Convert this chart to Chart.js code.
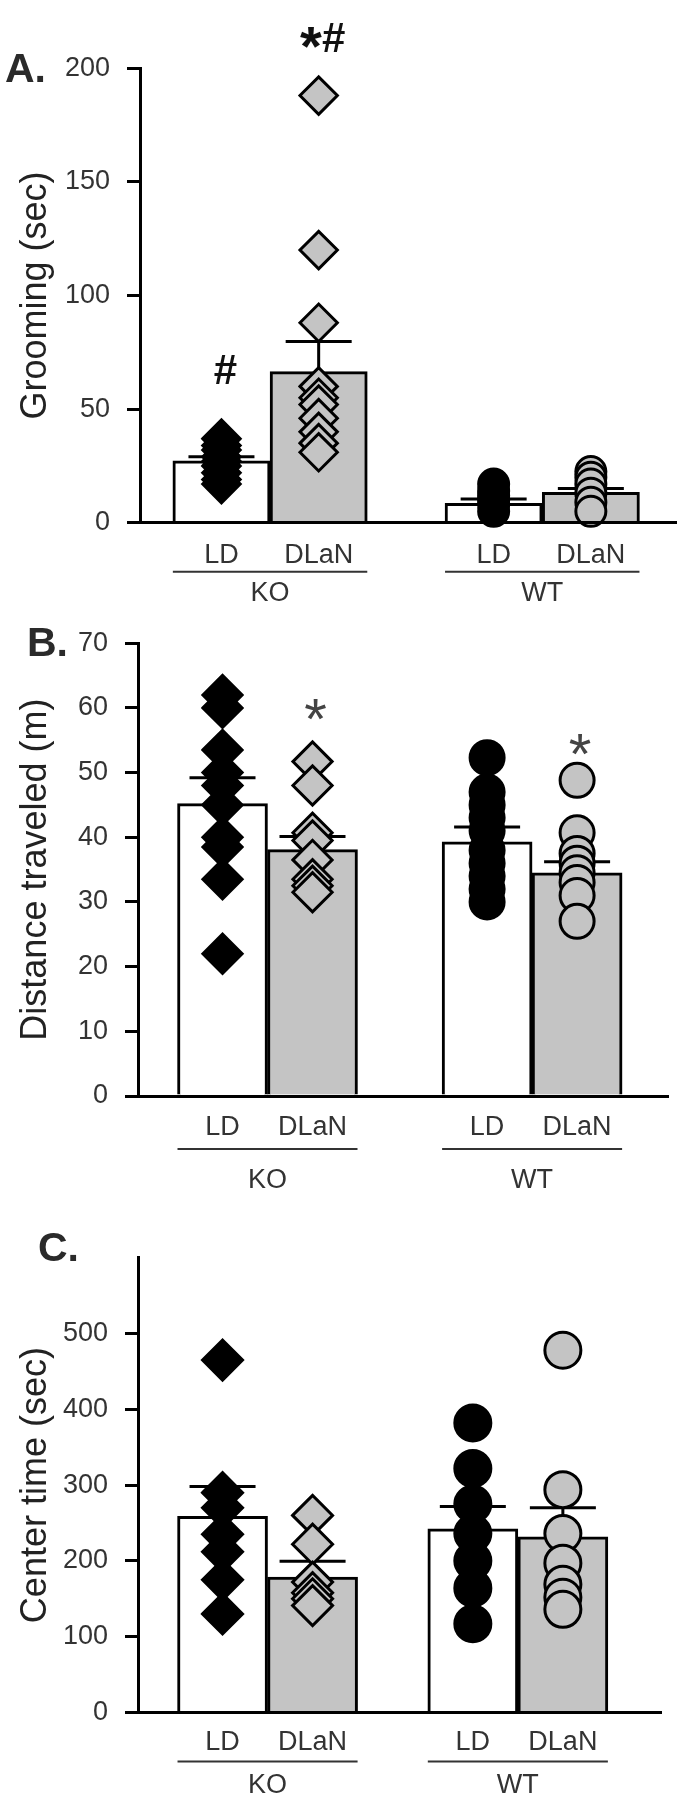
<!DOCTYPE html>
<html>
<head>
<meta charset="utf-8">
<script src="https://cdn.jsdelivr.net/npm/chart.js@4.4.1/dist/chart.umd.min.js"></script>
<style>
  html, body { margin: 0; padding: 0; background: #fff; }
  #page { position: relative; width: 698px; height: 1800px; }
  canvas { position: absolute; left: 0; }
</style>
</head>
<body>
<div id="page">
  <canvas id="panel-a" width="698" height="610" style="top:0"></canvas>
  <canvas id="panel-b" width="698" height="590" style="top:610px"></canvas>
  <canvas id="panel-c" width="698" height="600" style="top:1200px"></canvas>
</div>
<script>
const conditions = ['LD', 'DLaN'];
const genotypes = ['KO', 'WT'];
// bar order everywhere: KO LD, KO DLaN, WT LD, WT DLaN

// A. grooming
const groomTicks = [0, 50, 100, 150, 200];
const groomMean = [27.2, 66.5, 8.5, 13.4];
const groomSem = [1.8, 13.2, 1.9, 1.7];
const groomKoLD = [37, 34, 32, 29, 27, 25, 22, 19, 17];
const groomKoDLaN = [188, 120, 88, 60, 55, 52, 46, 40, 35, 31];
const groomWtLD = [17, 14, 12, 10, 8, 5];
const groomWtDLaN = [22.5, 20, 17, 13, 9, 5];
const groomMarks = ['#', '*#', '', ''];

// B. distance traveled
const distTicks = [0, 10, 20, 30, 40, 50, 60, 70];
const distMean = [45.2, 38.1, 39.3, 34.5];
const distSem = [4.0, 2.0, 2.3, 1.7];
const distKoLD = [62, 60, 53.5, 50, 48, 45, 40, 38.5, 33.5, 22];
const distKoDLaN = [51.7, 48, 40.7, 39.5, 36.5, 33.5, 32.5, 31.5];
const distWtLD = [52.3, 47, 45, 43, 41, 38, 36, 34, 32, 30];
const distWtDLaN = [48.8, 40.7, 37.5, 36, 34.5, 33, 31, 27];
const distMarks = ['', '*', '', '*'];

// C. center time
const centerTicks = [0, 100, 200, 300, 400, 500];
const centerMean = [258.8, 178.5, 242.3, 231.7];
const centerSem = [39.5, 21.1, 29.4, 38.3];
const centerKoLD = [465, 290, 270, 235, 212, 175, 130];
const centerKoDLaN = [260, 222, 172, 158, 150, 141];
const centerWtLD = [382, 322, 275, 236, 200, 164, 117];
const centerWtDLaN = [478, 294, 236, 197, 169, 152, 136];
const centerMarks = ['', '', '', ''];

const FONT = '"Liberation Sans", Arial, sans-serif';
const GRAY = '#c4c4c4';
const TEXT = '#333';
Chart.defaults.font.family = FONT;

function drawMark(ctx, text, cx, cy, st) {
  const parts = [...text].map(ch => {
    const size = ch === '*' ? st.starSize : st.size;
    const font = `${st.weight} ${size}px ${FONT}`;
    ctx.font = font;
    return { ch, font, m: ctx.measureText(ch) };
  });
  const total = parts.reduce((s, q) => s + q.m.width, 0);
  let x = cx - total / 2;
  ctx.fillStyle = st.color;
  ctx.textAlign = 'left';
  ctx.textBaseline = 'alphabetic';
  parts.forEach(q => {
    ctx.font = q.font;
    const base = cy + (q.m.actualBoundingBoxAscent - q.m.actualBoundingBoxDescent) / 2;
    ctx.fillText(q.ch, x, base);
    x += q.m.width;
  });
}

function decor(p, pos) {
  return {
    id: 'decor',
    afterDatasetDraw(chart, args) {
      if (args.meta.type !== 'bar') return;
      const { ctx, scales: { x, y } } = chart;
      ctx.save();
      ctx.strokeStyle = '#000';
      ctx.lineWidth = 3;
      p.mean.forEach((m, i) => {
        const cx = x.getPixelForValue(pos[i]);
        const yb = y.getPixelForValue(m);
        const yt = y.getPixelForValue(m + p.sem[i]);
        ctx.beginPath();
        ctx.moveTo(cx, yb);
        ctx.lineTo(cx, yt);
        ctx.moveTo(cx - 33, yt);
        ctx.lineTo(cx + 33, yt);
        ctx.stroke();
      });
      ctx.restore();
    },
    afterDraw(chart) {
      const { ctx, chartArea, scales: { x, y } } = chart;
      ctx.save();

      // genotype underline + name
      ctx.font = `27px ${FONT}`;
      ctx.fillStyle = TEXT;
      ctx.strokeStyle = TEXT;
      ctx.lineWidth = 2;
      ctx.textAlign = 'center';
      ctx.textBaseline = 'middle';
      genotypes.forEach((g, gi) => {
        const x0 = x.getPixelForValue(pos[gi * 2] - 0.5);
        const x1 = x.getPixelForValue(pos[gi * 2 + 1] + 0.5);
        const ly = chartArea.bottom + p.lineGap;
        ctx.beginPath();
        ctx.moveTo(x0, ly);
        ctx.lineTo(x1, ly);
        ctx.stroke();
        ctx.fillText(g, (x0 + x1) / 2, chartArea.bottom + p.groupGap);
      });

      // significance marks above highest point
      p.marks.forEach((txt, i) => {
        if (!txt) return;
        const top = y.getPixelForValue(Math.max(...p.points[i]));
        drawMark(ctx, txt, x.getPixelForValue(pos[i]) + p.markDx, top - p.markLift, p.markStyle);
      });

      // panel letter
      ctx.font = `bold 41px ${FONT}`;
      ctx.fillStyle = '#2a2a2a';
      ctx.textAlign = 'left';
      ctx.textBaseline = 'alphabetic';
      ctx.fillText(p.letter, p.letterX, p.letterY);
      ctx.restore();
    }
  };
}

function makePanel(canvasId, p) {
  const pos = [0, 1, p.groupStep, p.groupStep + 1];
  const shapes = ['rectRot', 'rectRot', 'circle', 'circle'];
  const fills = ['#000', GRAY, '#000', GRAY];
  const barFills = ['#fff', GRAY, '#fff', GRAY];

  const barSet = {
    type: 'bar',
    data: p.mean.map((m, i) => ({ x: pos[i], y: m })),
    backgroundColor: barFills,
    borderColor: '#000',
    borderWidth: 3,
    borderSkipped: 'start',
    barPercentage: 1,
    categoryPercentage: 1,
    grouped: false,
    order: 1
  };
  const pointSets = p.points.map((vals, i) => ({
    type: 'scatter',
    data: vals.map(v => ({ x: pos[i], y: v })),
    pointStyle: shapes[i],
    pointRadius: shapes[i] === 'circle' ? p.circleR : p.diamondR,
    pointHoverRadius: shapes[i] === 'circle' ? p.circleR : p.diamondR,
    backgroundColor: fills[i],
    borderColor: '#000',
    borderWidth: 3,
    clip: false,
    order: 0
  }));

  return new Chart(document.getElementById(canvasId), {
    type: 'bar',
    data: { datasets: [barSet, ...pointSets] },
    options: {
      responsive: false,
      animation: false,
      devicePixelRatio: 1,
      layout: { padding: { top: p.padTop, right: p.padRight, bottom: 0, left: 0 } },
      plugins: { legend: { display: false }, tooltip: { enabled: false } },
      scales: {
        x: {
          type: 'linear',
          offset: false,
          min: p.xMin,
          max: p.xMax,
          afterBuildTicks: s => { s.ticks = pos.map(v => ({ value: v })); },
          afterFit: s => { s.height = p.xAxisH; },
          ticks: {
            callback: (v, i) => conditions[i % 2],
            font: { size: 27 },
            color: TEXT,
            padding: p.labelPad,
            autoSkip: false,
            maxRotation: 0,
            minRotation: 0
          },
          grid: { display: false, offset: false },
          border: { display: true, color: '#000', width: 3, z: 1 }
        },
        y: {
          min: 0,
          max: p.yMax,
          afterBuildTicks: s => { s.ticks = p.yTicks.map(v => ({ value: v })); },
          afterFit: s => { s.width = p.yAxisW; },
          ticks: { callback: v => String(v), font: { size: 27 }, color: TEXT, padding: 17 },
          grid: { drawOnChartArea: false, drawTicks: true, tickLength: 13, color: '#000', lineWidth: 3 },
          border: { display: true, color: '#000', width: 3 },
          title: {
            display: true,
            text: p.title,
            font: { size: 36 },
            color: '#222',
            padding: { top: 14, bottom: 0 }
          }
        }
      }
    },
    plugins: [decor(p, pos)]
  });
}

makePanel('panel-a', {
  letter: 'A.', letterX: 5, letterY: 82,
  title: 'Grooming (sec)', yMax: 200, yTicks: groomTicks,
  mean: groomMean, sem: groomSem,
  points: [groomKoLD, groomKoDLaN, groomWtLD, groomWtDLaN],
  marks: groomMarks,
  groupStep: 2.8, xMin: -0.838, xMax: 4.679,
  padTop: 68.3, padRight: 12, yAxisW: 140, xAxisH: 87.3,
  labelPad: 9, lineGap: 49, groupGap: 70.5,
  diamondR: 18.7, circleR: 15,
  markLift: 58, markDx: 4,
  markStyle: { size: 42, starSize: 56, weight: 'bold', color: '#111' }
});

makePanel('panel-b', {
  letter: 'B.', letterX: 27, letterY: 45.5,
  title: 'Distance traveled (m)', yMax: 70, yTicks: distTicks,
  mean: distMean, sem: distSem,
  points: [distKoLD, distKoDLaN, distWtLD, distWtDLaN],
  marks: distMarks,
  groupStep: 2.94, xMin: -0.939, xMax: 4.95,
  padTop: 31.4, padRight: 30, yAxisW: 138, xAxisH: 104,
  labelPad: 7.5, lineGap: 53, groupGap: 85,
  diamondR: 19.6, circleR: 17,
  markLift: 36, markDx: 3,
  markStyle: { size: 40, starSize: 58, weight: 'normal', color: '#444' }
});

makePanel('panel-c', {
  letter: 'C.', letterX: 38, letterY: 61,
  title: 'Center time (sec)', yMax: 600, yTicks: centerTicks,
  mean: centerMean, sem: centerSem,
  points: [centerKoLD, centerKoDLaN, centerWtLD, centerWtDLaN],
  marks: centerMarks,
  groupStep: 2.78, xMin: -0.939, xMax: 4.87,
  padTop: 57.8, padRight: 37, yAxisW: 138, xAxisH: 87.6,
  labelPad: 5.5, lineGap: 49, groupGap: 73.6,
  diamondR: 20, circleR: 18,
  markLift: 47, markDx: 3,
  markStyle: { size: 40, starSize: 58, weight: 'normal', color: '#444' }
});
</script>
</body>
</html>
